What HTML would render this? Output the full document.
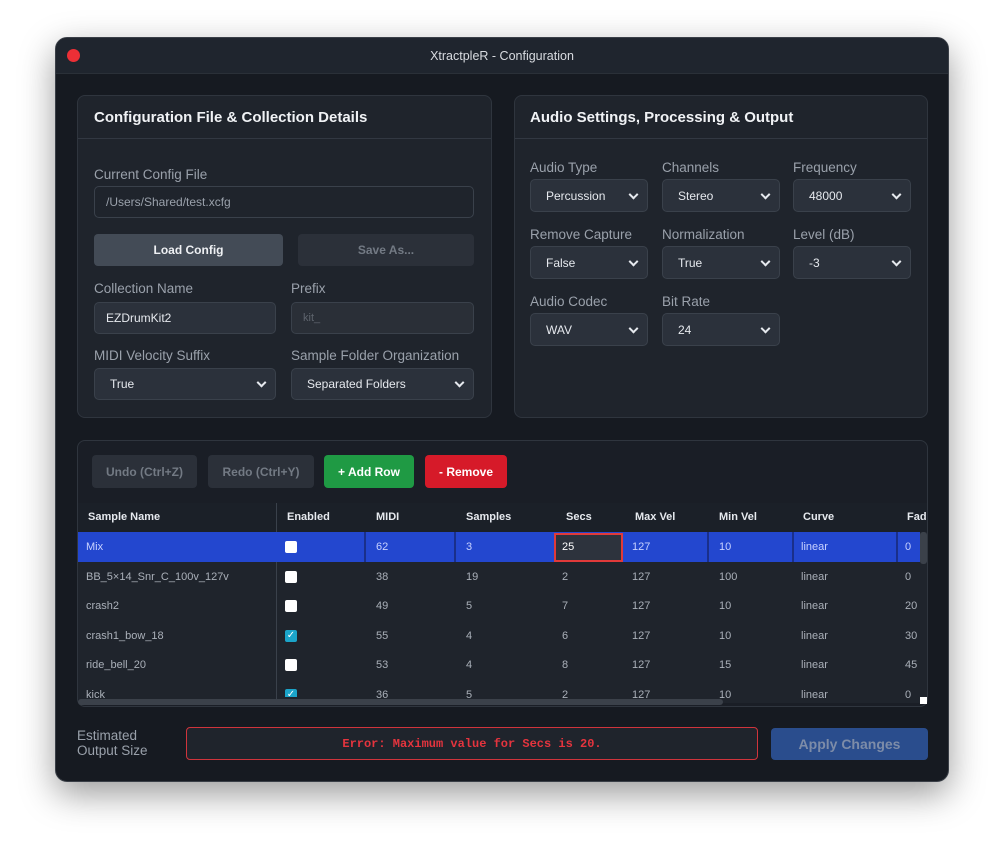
<!DOCTYPE html>
<html><head><meta charset="utf-8"><style>
*{box-sizing:border-box;margin:0;padding:0}
body{width:1005px;height:856px;background:#fff;font-family:"Liberation Sans",sans-serif;position:relative;overflow:hidden}
.a{position:absolute}
#win{left:55px;top:37px;width:894px;height:745px;background:#161a21;border-radius:12px;border:1px solid #3a3f47;box-shadow:0 12px 35px rgba(0,0,0,.4);overflow:hidden}
#tb{left:0;top:0;width:100%;height:36px;background:#1f252e;border-bottom:1px solid #2a3038;color:#d8dbe0;font-size:12.5px;text-align:center;line-height:36px}
.panel{background:#1f242c;border:1px solid #2f353e;border-radius:8px}
.h{color:#f0f2f5;font-weight:bold;font-size:15px}
.lbl{color:#9aa1ab;font-size:13.5px}
.inp{background:#1f242c;border:1px solid #3a414b;border-radius:5px;color:#c9ced6;font-size:12px;padding-left:11px;display:flex;align-items:center}
.sel{background:#2b313b;border:1px solid #3a414b;border-radius:5px;color:#e6e9ee;font-size:12px;padding-left:15px;display:flex;align-items:center}
.sel:after{content:"";position:absolute;right:10px;top:50%;width:5px;height:5px;border-right:2px solid #e6e9ee;border-bottom:2px solid #e6e9ee;transform:translateY(-70%) rotate(45deg)}
.btn{border-radius:4px;font-size:12px;font-weight:bold;display:flex;align-items:center;justify-content:center}
.th{color:#e6e9ee;font-size:11px;font-weight:bold;top:511px}
.td{color:#aab0b9;font-size:11px}
.cb{width:12px;height:12px;background:#fff;border-radius:2px}
.cbc{width:12px;height:12px;background:#1ba4c9;border-radius:2px;color:#fff;font-size:10px;line-height:12px;text-align:center}
</style></head><body>
<div id="win" class="a">
<div id="tb" class="a">XtractpleR - Configuration</div>
<div class="a" style="left:11px;top:11px;width:13px;height:13px;border-radius:50%;background:#ec2f36"></div>
</div>
<!-- left panel -->
<div class="a panel" style="left:77px;top:95px;width:415px;height:323px"></div>
<div class="a h" style="left:94px;top:109px">Configuration File &amp; Collection Details</div>
<div class="a" style="left:78px;top:138px;width:413px;height:1px;background:#323842"></div>
<div class="a lbl" style="left:94px;top:167px">Current Config File</div>
<div class="a inp" style="left:94px;top:186px;width:380px;height:32px;color:#9aa1ab">/Users/Shared/test.xcfg</div>
<div class="a btn" style="left:94px;top:234px;width:189px;height:32px;background:#434b56;color:#eef0f3">Load Config</div>
<div class="a btn" style="left:298px;top:234px;width:176px;height:32px;background:#2b3039;color:#737a84">Save As...</div>
<div class="a lbl" style="left:94px;top:281px">Collection Name</div>
<div class="a lbl" style="left:291px;top:281px">Prefix</div>
<div class="a inp" style="left:94px;top:302px;width:182px;height:32px;background:#2b313b;color:#e6e9ee">EZDrumKit2</div>
<div class="a inp" style="left:291px;top:302px;width:183px;height:32px;background:#2a2f37;color:#5e646d;font-size:11px">kit_</div>
<div class="a lbl" style="left:94px;top:348px">MIDI Velocity Suffix</div>
<div class="a lbl" style="left:291px;top:348px">Sample Folder Organization</div>
<div class="a sel" style="left:94px;top:368px;width:182px;height:32px">True</div>
<div class="a sel" style="left:291px;top:368px;width:183px;height:32px">Separated Folders</div>
<!-- right panel -->
<div class="a panel" style="left:514px;top:95px;width:414px;height:323px"></div>
<div class="a h" style="left:530px;top:109px">Audio Settings, Processing &amp; Output</div>
<div class="a" style="left:515px;top:138px;width:412px;height:1px;background:#323842"></div>
<div class="a lbl" style="left:530px;top:160px">Audio Type</div>
<div class="a lbl" style="left:662px;top:160px">Channels</div>
<div class="a lbl" style="left:793px;top:160px">Frequency</div>
<div class="a sel" style="left:530px;top:179px;width:118px;height:33px">Percussion</div>
<div class="a sel" style="left:662px;top:179px;width:118px;height:33px">Stereo</div>
<div class="a sel" style="left:793px;top:179px;width:118px;height:33px">48000</div>
<div class="a lbl" style="left:530px;top:227px">Remove Capture</div>
<div class="a lbl" style="left:662px;top:227px">Normalization</div>
<div class="a lbl" style="left:793px;top:227px">Level (dB)</div>
<div class="a sel" style="left:530px;top:246px;width:118px;height:33px">False</div>
<div class="a sel" style="left:662px;top:246px;width:118px;height:33px">True</div>
<div class="a sel" style="left:793px;top:246px;width:118px;height:33px">-3</div>
<div class="a lbl" style="left:530px;top:294px">Audio Codec</div>
<div class="a lbl" style="left:662px;top:294px">Bit Rate</div>
<div class="a sel" style="left:530px;top:313px;width:118px;height:33px">WAV</div>
<div class="a sel" style="left:662px;top:313px;width:118px;height:33px">24</div>
<!-- table panel -->
<div class="a panel" style="left:77px;top:440px;width:851px;height:267px;background:#1a1e26;overflow:hidden">
 <div class="a" style="left:0;top:62px;width:851px;height:200px;background:#1f242c"></div>
 <div class="a" style="left:0;top:62px;width:851px;height:29px;background:#1b2028"></div>
</div>
<div class="a btn" style="left:92px;top:455px;width:105px;height:33px;background:#2b3039;color:#737a84">Undo (Ctrl+Z)</div>
<div class="a btn" style="left:208px;top:455px;width:106px;height:33px;background:#2b3039;color:#737a84">Redo (Ctrl+Y)</div>
<div class="a btn" style="left:324px;top:455px;width:90px;height:33px;background:#1f9a44;color:#fff">+ Add Row</div>
<div class="a btn" style="left:425px;top:455px;width:82px;height:33px;background:#d61a29;color:#fff">- Remove</div>
<div class="a" style="left:276px;top:503px;width:1px;height:196px;background:#3a414b"></div>
<div class="a th" style="left:88px">Sample Name</div>
<div class="a th" style="left:287px">Enabled</div>
<div class="a th" style="left:376px">MIDI</div>
<div class="a th" style="left:466px">Samples</div>
<div class="a th" style="left:566px">Secs</div>
<div class="a th" style="left:635px">Max Vel</div>
<div class="a th" style="left:719px">Min Vel</div>
<div class="a th" style="left:803px">Curve</div>
<div class="a th" style="left:907px">Fad</div>
<!-- selected row -->
<div class="a" style="left:78px;top:532px;width:842px;height:30px;background:#2347cf"></div>
<div class="a" style="left:364px;top:532px;width:2px;height:30px;background:#1a2f8a"></div>
<div class="a" style="left:454px;top:532px;width:2px;height:30px;background:#1a2f8a"></div>
<div class="a" style="left:707px;top:532px;width:2px;height:30px;background:#1a2f8a"></div>
<div class="a" style="left:792px;top:532px;width:2px;height:30px;background:#1a2f8a"></div>
<div class="a" style="left:896px;top:532px;width:2px;height:30px;background:#1a2f8a"></div>
<div class="a" style="left:554px;top:533px;width:69px;height:29px;background:#2d333d;border:2px solid #e03a3a"></div>
<div class="a" style="left:920px;top:532px;width:7px;height:32px;background:#3b414a;border-radius:3px"></div>
<div class="a" style="left:920px;top:697px;width:7px;height:7px;background:#fff"></div>
<div id="rows"></div>
<div class="a" style="left:78px;top:699px;width:645px;height:6px;background:#3b414a;border-radius:3px"></div>
<!-- bottom -->
<div class="a lbl" style="left:77px;top:728px;line-height:15px">Estimated<br>Output Size</div>
<div class="a" style="left:186px;top:727px;width:572px;height:33px;background:#1f242c;border:1px solid #d0343c;border-radius:4px;color:#e5343e;font-family:'Liberation Mono',monospace;font-weight:bold;font-size:12px;display:flex;align-items:center;justify-content:center">Error: Maximum value for Secs is 20.</div>
<div class="a btn" style="left:771px;top:728px;width:157px;height:32px;background:#2a4d8d;color:#7d8ca8;font-size:14px">Apply Changes</div>
<script>
var d=[["Mix",0,62,3,"25",127,10,"linear",0],["BB_5×14_Snr_C_100v_127v",0,38,19,2,127,100,"linear",0],["crash2",0,49,5,7,127,10,"linear",20],["crash1_bow_18",1,55,4,6,127,10,"linear",30],["ride_bell_20",0,53,4,8,127,15,"linear",45],["kick",1,36,5,2,127,10,"linear",0]];
var xs=[86,0,376,466,562,632,719,801,905],h="";
d.forEach(function(r,i){var y=532+i*29.6;var ch=i==5?"clip-path:inset(0 0 4px 0);":"";
for(var c=0;c<9;c++){if(c==1){h+='<div class="a '+(r[1]?'cbc':'cb')+'" style="left:285px;top:'+(y+9)+'px;'+ch+'">'+(r[1]?'✓':'')+'</div>';continue;}
var col=i==0?(c==4?'#fff':'#c8d2ff'):'#aab0b9';
h+='<div class="a td" style="left:'+xs[c]+'px;top:'+(y+9)+'px;color:'+col+';'+(i==5?'height:11px;overflow:hidden;':'')+'">'+r[c]+'</div>';}});
document.getElementById("rows").innerHTML=h;
</script>
</body></html>
